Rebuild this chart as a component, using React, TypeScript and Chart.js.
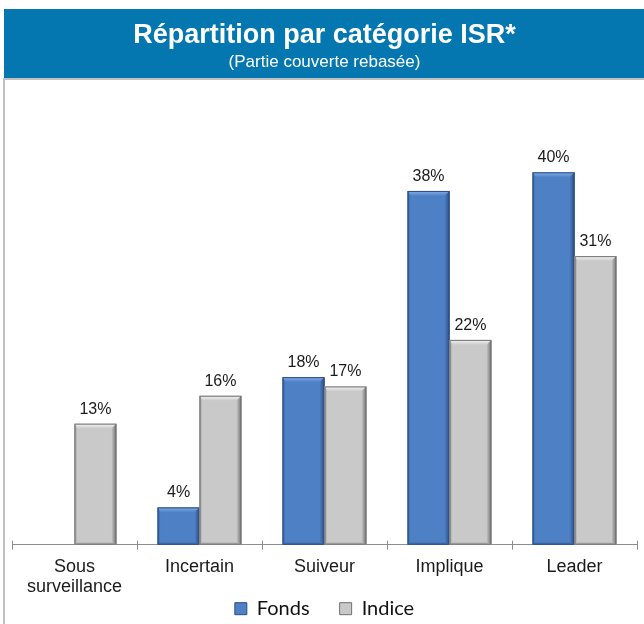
import React, { useEffect, useRef } from "react";
import { Chart, registerables } from "chart.js";

Chart.register(...registerables);

const categories: (string | string[])[] = [["Sous", "surveillance"], "Incertain", "Suiveur", "Implique", "Leader"];
const fondsValues: (number | null)[] = [null, 4, 18, 38, 40];
const indiceValues: number[] = [13, 16, 17, 22, 31];
const seriesNames = ["Fonds", "Indice"];
const titleText = "Répartition par catégorie ISR*";
const subtitleText = "(Partie couverte rebasée)";

const BLUE = { main: "#4E80C6", light: "#86B0EA", dark: "#2C4D82", side: "#3A64A4" };
const GRAY = { main: "#C9C9C9", light: "#F6F6F6", dark: "#707070", side: "#9C9C9C" };

const LEGEND_PAD = 30;

const framePlugin = {
  id: "frame",
  beforeDraw(chart: any) {
    const ctx = chart.ctx;
    ctx.save();
    ctx.fillStyle = "#ffffff";
    ctx.fillRect(0, 0, chart.width, chart.height);
    ctx.fillStyle = "#0477B0";
    ctx.fillRect(4, 9, 640, 69);
    ctx.fillStyle = "#C0C0C0";
    ctx.fillRect(3, 78, 641, 2);
    ctx.fillRect(3, 78, 2, 546);
    ctx.restore();
  },
};

// place legend row a fixed distance under the x axis line
const legendPlacePlugin = {
  id: "legendPlace",
  afterLayout(chart: any) {
    const lg = chart.legend;
    if (!lg) return;
    lg.top = chart.chartArea.bottom + 54 - LEGEND_PAD;
    lg.bottom = lg.top + LEGEND_PAD + 26;
    lg.height = lg.bottom - lg.top;
  },
};

function drawBevel(ctx: CanvasRenderingContext2D, el: any, pal: typeof BLUE) {
  const { x, y, base, width } = el.getProps(["x", "y", "base", "width"], true);
  const l = x - width / 2;
  const r = x + width / 2;
  const t = Math.min(y, base);
  const b = Math.max(y, base);
  const h = b - t;
  if (h <= 0) return;
  const bv = Math.min(5, h / 3);
  ctx.save();
  ctx.fillStyle = pal.main;
  ctx.fillRect(l, t, width, h);
  const gt = ctx.createLinearGradient(0, t, 0, t + bv);
  gt.addColorStop(0, pal.light);
  gt.addColorStop(1, pal.main);
  ctx.fillStyle = gt;
  ctx.beginPath();
  ctx.moveTo(l, t);
  ctx.lineTo(r, t);
  ctx.lineTo(r - bv, t + bv);
  ctx.lineTo(l + bv * 0.6, t + bv);
  ctx.closePath();
  ctx.fill();
  const gr = ctx.createLinearGradient(r - bv, 0, r, 0);
  gr.addColorStop(0, pal.main);
  gr.addColorStop(1, pal.dark);
  ctx.fillStyle = gr;
  ctx.beginPath();
  ctx.moveTo(r, t);
  ctx.lineTo(r, b);
  ctx.lineTo(r - bv, b - bv * 0.6);
  ctx.lineTo(r - bv, t + bv);
  ctx.closePath();
  ctx.fill();
  const gl = ctx.createLinearGradient(l, 0, l + bv * 0.6, 0);
  gl.addColorStop(0, pal.side);
  gl.addColorStop(1, pal.main);
  ctx.fillStyle = gl;
  ctx.beginPath();
  ctx.moveTo(l, t);
  ctx.lineTo(l + bv * 0.6, t + bv);
  ctx.lineTo(l + bv * 0.6, b - bv * 0.6);
  ctx.lineTo(l, b);
  ctx.closePath();
  ctx.fill();
  const gb = ctx.createLinearGradient(0, b - bv * 0.6, 0, b);
  gb.addColorStop(0, pal.main);
  gb.addColorStop(1, pal.side);
  ctx.fillStyle = gb;
  ctx.beginPath();
  ctx.moveTo(l, b);
  ctx.lineTo(l + bv * 0.6, b - bv * 0.6);
  ctx.lineTo(r - bv, b - bv * 0.6);
  ctx.lineTo(r, b);
  ctx.closePath();
  ctx.fill();
  ctx.strokeStyle = pal.dark;
  ctx.lineWidth = 1;
  ctx.strokeRect(l + 0.5, t + 0.5, width - 1, h - 1);
  ctx.restore();
}

const bevelLabelPlugin = {
  id: "bevelLabels",
  afterDatasetsDraw(chart: any) {
    const ctx = chart.ctx;
    chart.data.datasets.forEach((ds: any, di: number) => {
      const meta = chart.getDatasetMeta(di);
      const pal = di === 0 ? BLUE : GRAY;
      meta.data.forEach((el: any, i: number) => {
        const v = ds.data[i];
        if (v === null || v === undefined) return;
        drawBevel(ctx, el, pal);
        const { x, y } = el.getProps(["x", "y"], true);
        ctx.save();
        ctx.fillStyle = "#1a1a1a";
        ctx.font = "16px 'Liberation Sans', Arial, sans-serif";
        ctx.textAlign = "center";
        ctx.textBaseline = "alphabetic";
        ctx.fillText(v + "%", x, y - 10);
        ctx.restore();
      });
    });
    const xs = chart.scales.x;
    const yb = chart.chartArea.bottom;
    ctx.save();
    ctx.strokeStyle = "#8C8C8C";
    ctx.lineWidth = 1;
    for (let i = 0; i <= categories.length; i++) {
      const px = Math.round(xs.getPixelForValue(i - 0.5)) + 0.5;
      ctx.beginPath();
      ctx.moveTo(px, yb - 4);
      ctx.lineTo(px, yb);
      ctx.stroke();
    }
    ctx.restore();
  },
};

export default function App() {
  const ref = useRef<HTMLCanvasElement>(null);
  useEffect(() => {
    if (!ref.current) return;
    const chart = new Chart(ref.current, {
      type: "bar",
      data: {
        labels: categories,
        datasets: [
          {
            label: seriesNames[0],
            data: fondsValues,
            backgroundColor: BLUE.main,
            borderColor: BLUE.dark,
            borderWidth: 0,
          },
          {
            label: seriesNames[1],
            data: indiceValues,
            backgroundColor: GRAY.main,
            borderColor: GRAY.dark,
            borderWidth: 0,
          },
        ],
      },
      options: {
        responsive: false,
        animation: false,
        layout: { padding: { left: 12, right: 7, top: 0, bottom: 2 } },
        datasets: {
          bar: { categoryPercentage: 0.67, barPercentage: 1.0 },
        },
        scales: {
          x: {
            grid: {
              drawOnChartArea: false,
              drawTicks: true,
              tickLength: 5,
              color: "#8C8C8C",
              offset: true,
            },
            border: { color: "#8C8C8C", width: 1 },
            ticks: {
              color: "#1a1a1a",
              font: { family: "'Liberation Sans', Arial, sans-serif", size: 18, lineHeight: 1.12 },
              padding: 7,
              maxRotation: 0,
              autoSkip: false,
            },
          },
          y: {
            display: false,
            min: 0,
            max: 45,
          },
        },
        plugins: {
          legend: {
            display: true,
            position: "bottom",
            maxHeight: 18,
            labels: {
              boxWidth: 12,
              boxHeight: 12,
              padding: LEGEND_PAD,
              color: "#111",
              font: { family: "Lato, 'Open Sans', sans-serif", size: 20 },
              generateLabels: (c: any) =>
                c.data.datasets.map((ds: any, i: number) => ({
                  text: ds.label,
                  fillStyle: i === 0 ? BLUE.main : GRAY.main,
                  strokeStyle: i === 0 ? BLUE.dark : GRAY.dark,
                  lineWidth: 1,
                  hidden: false,
                  datasetIndex: i,
                  fontColor: "#111",
                })),
            },
          },
          title: {
            display: true,
            text: titleText,
            color: "#ffffff",
            font: { family: "'Liberation Sans', Arial, sans-serif", size: 27, weight: "bold", lineHeight: 1.2 },
            padding: { top: 19, bottom: 0 },
          },
          subtitle: {
            display: true,
            text: subtitleText,
            color: "#ffffff",
            font: { family: "'Liberation Sans', Arial, sans-serif", size: 17, lineHeight: 1.2 },
            padding: { top: 1, bottom: 53 },
          },
          tooltip: { enabled: false },
        },
      },
      plugins: [framePlugin, legendPlacePlugin, bevelLabelPlugin],
    } as any);
    return () => chart.destroy();
  }, []);
  return (
    <div style={{ position: "fixed", left: 0, top: 0, width: 644, height: 624, background: "#fff" }}>
      <canvas ref={ref} width={644} height={624} style={{ display: "block", width: 644, height: 624 }} />
    </div>
  );
}
